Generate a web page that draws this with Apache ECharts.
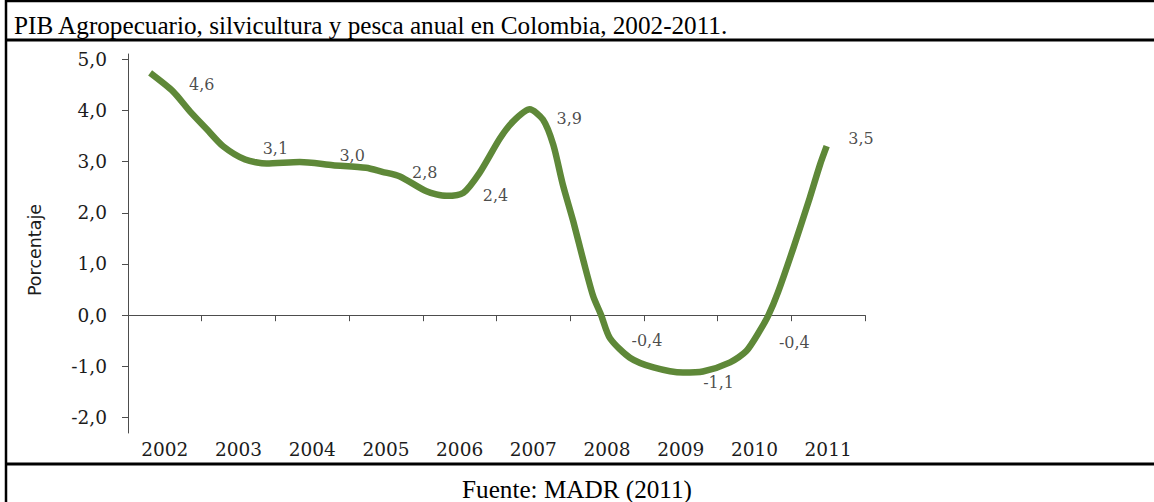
<!DOCTYPE html>
<html>
<head>
<meta charset="utf-8">
<script src="https://cdn.jsdelivr.net/npm/echarts@6/dist/echarts.min.js"></script>
<style>
  html, body { margin: 0; padding: 0; background: #fff; }
  #chart { width: 1154px; height: 502px; }
</style>
</head>
<body>
<div id="chart"></div>
<script>
// ---- data ----
const years = ['2002', '2003', '2004', '2005', '2006', '2007', '2008', '2009', '2010', '2011'];
const annualValues = [4.6, 3.1, 3.0, 2.8, 2.4, 3.9, -0.4, -1.1, -0.4, 3.5];
// traced growth curve (time in years, value in %)
const trendTime = [2002.30, 2002.61, 2002.84, 2003.07, 2003.29, 2003.59, 2003.88, 2004.33, 2004.78, 2005.23,
                   2005.45, 2005.69, 2006.05, 2006.32, 2006.55, 2006.77, 2007.05, 2007.23, 2007.45, 2007.63,
                   2007.77, 2007.90, 2008.04, 2008.18, 2008.31, 2008.42, 2008.54, 2008.81, 2009.13, 2009.53,
                   2009.80, 2010.17, 2010.39, 2010.57, 2010.69, 2010.82, 2011.03, 2011.25, 2011.39, 2011.48];
const trendValue = [4.73, 4.37, 3.98, 3.63, 3.30, 3.04, 2.96, 2.99, 2.93, 2.88,
                    2.80, 2.71, 2.42, 2.33, 2.39, 2.78, 3.46, 3.79, 4.02, 3.82,
                    3.33, 2.55, 1.84, 1.06, 0.38, 0.00, -0.45, -0.83, -1.02, -1.12,
                    -1.10, -0.92, -0.70, -0.31, 0.00, 0.45, 1.32, 2.29, 2.94, 3.30];
const yTicks = [-2, -1, 0, 1, 2, 3, 4, 5];
const titleText = 'PIB Agropecuario, silvicultura y pesca anual en Colombia, 2002-2011.';
const sourceText = 'Fuente: MADR (2011)';
const yAxisName = 'Porcentaje';

// ---- layout / style ----
// small pixel nudges for each value label, as placed in the reference
const labelNudge = [[0, 5], [0, -8], [3, -6], [2, 1], [-1, 3], [-1, 3], [3, 5], [1, 11], [3, 7], [-4, 3]];
const fmt = v => Number(v).toFixed(1).replace('.', ',');
const serif = 'DejaVu Serif';
const textColor = '#1c1c1c';
const axisColor = '#4d4d4d';

const chart = echarts.init(document.getElementById('chart'), null, { renderer: 'svg' });
chart.setOption({
  animation: false,
  backgroundColor: '#ffffff',
  title: [
    { text: titleText, left: 9, top: 7,
      textStyle: { fontFamily: 'Liberation Serif', fontSize: 25.2, fontWeight: 'normal', color: '#000', lineHeight: 26 } },
    { text: sourceText, left: 'center', top: 471,
      textStyle: { fontFamily: 'Liberation Serif', fontSize: 25.2, fontWeight: 'normal', color: '#000', lineHeight: 26 } }
  ],
  graphic: [
    { type: 'line', shape: { x1: 5, y1: 1, x2: 1154, y2: 1 }, style: { stroke: '#000', lineWidth: 2.5 } },
    { type: 'line', shape: { x1: 5, y1: 40, x2: 1154, y2: 40 }, style: { stroke: '#000', lineWidth: 3 } },
    { type: 'line', shape: { x1: 5, y1: 464, x2: 1154, y2: 464 }, style: { stroke: '#000', lineWidth: 3 } },
    { type: 'line', shape: { x1: 6, y1: 0, x2: 6, y2: 502 }, style: { stroke: '#000', lineWidth: 2.5 } }
  ],
  grid: { left: 128, top: 54, width: 737, height: 379, containLabel: false },
  xAxis: [
    { type: 'category', data: years, position: 'bottom', boundaryGap: true,
      axisLine: { show: true, onZero: true, lineStyle: { color: axisColor, width: 1 } },
      axisTick: { show: true, length: 6, lineStyle: { color: axisColor } },
      axisLabel: { show: false }, splitLine: { show: false } },
    { type: 'category', data: years, position: 'bottom', boundaryGap: true,
      axisLine: { show: false, onZero: false }, axisTick: { show: false },
      axisLabel: { show: true, margin: 7, fontFamily: serif, fontSize: 18.5, color: textColor },
      splitLine: { show: false } },
    { type: 'value', min: 2002, max: 2012, show: false }
  ],
  yAxis: {
    type: 'value', min: -2.3, max: 5.1,
    axisLine: { show: true, lineStyle: { color: axisColor, width: 1 } },
    axisTick: { show: true, length: 6, customValues: yTicks, lineStyle: { color: axisColor } },
    axisLabel: { show: true, customValues: yTicks, margin: 21, formatter: fmt,
                 fontFamily: serif, fontSize: 18.5, color: textColor },
    splitLine: { show: false },
    name: yAxisName, nameLocation: 'middle', nameGap: 84, nameRotate: 90,
    nameTextStyle: { fontFamily: 'DejaVu Sans', fontSize: 17.5, color: textColor, padding: [0, 13, 0, 0] }
  },
  series: [
    { type: 'line', xAxisIndex: 2, yAxisIndex: 0, silent: true,
      data: trendTime.map((t, i) => [t, trendValue[i]]),
      smooth: 0.25, symbol: 'none',
      lineStyle: { color: '#5e8838', width: 6.5, cap: 'butt', join: 'round' } },
    { type: 'scatter', xAxisIndex: 2, yAxisIndex: 0, silent: true,
      data: years.map((y, i) => ({
        value: [Number(y) + 1, annualValues[i]],
        label: { offset: labelNudge[i] }
      })),
      symbolSize: 1, itemStyle: { color: 'rgba(0,0,0,0)' },
      label: { show: true, position: 'inside',
               formatter: p => fmt(p.value[1]),
               fontFamily: serif, fontSize: 16, color: textColor } }
  ]
});
</script>
</body>
</html>
